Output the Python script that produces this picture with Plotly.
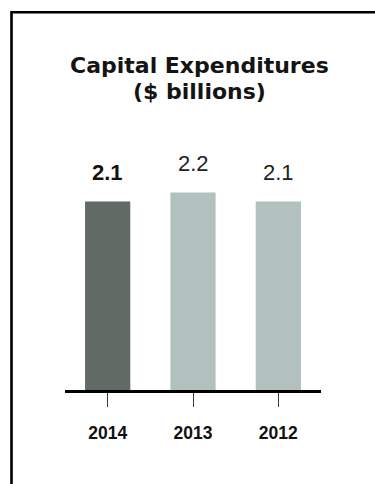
import plotly.graph_objects as go

# Capital expenditures by year, $ billions
years = ["2014", "2013", "2012"]
capex = [2.1, 2.2, 2.1]
bar_colors = ["#616b65", "#b2c1bd", "#b2c1bd"]
label_bold = [True, False, False]

title_lines = ["Capital Expenditures", "($ billions)"]

# canvas and plot-area geometry (pixels)
W, H = 375, 484
L, R, T, B = 65, 54, 150, 94
PW, PH = W - L - R, H - T - B
Y_TOP = 2.674


def px_x(px):
    return (px - L) / PW


def px_y(py):
    return (H - B - py) / PH


fig = go.Figure(
    go.Bar(
        x=years,
        y=capex,
        marker=dict(color=bar_colors, line=dict(width=0)),
        width=0.53,
        hoverinfo="skip",
    )
)

annotations = []
for i, (v, bold) in enumerate(zip(capex, label_bold)):
    annotations.append(
        dict(
            x=i, y=v, xref="x", yref="y",
            text=f"<b>{v:.1f}</b>" if bold else f"{v:.1f}",
            showarrow=False, yanchor="bottom", yshift=15,
            font=dict(family="Liberation Sans, Arial", size=22,
                      color="#111111" if bold else "#222222"),
        )
    )

for line, cy in zip(title_lines, [66, 91]):
    annotations.append(
        dict(
            x=px_x(199), y=px_y(cy), xref="paper", yref="paper",
            text=f"<b>{line}</b>", showarrow=False,
            xanchor="center", yanchor="middle",
            font=dict(family="DejaVu Sans", size=22, color="#141414"),
        )
    )

# open frame: left and top edges
frame_path = (
    f"M {px_x(11.5)},{px_y(484)} L {px_x(11.5)},{px_y(12.3)} "
    f"L {px_x(376)},{px_y(12.3)}"
)

fig.update_layout(
    width=W, height=H,
    margin=dict(l=L, r=R, t=T, b=B, pad=0),
    paper_bgcolor="white", plot_bgcolor="white",
    showlegend=False,
    bargap=0.47,
    annotations=annotations,
    shapes=[dict(type="path", path=frame_path, xref="paper", yref="paper",
                 line=dict(color="#000000", width=2.6), layer="above")],
    xaxis=dict(
        type="category", range=[-0.5, 2.5],
        showline=True, linecolor="#000000", linewidth=2.6,
        ticks="outside", ticklen=14, tickwidth=1, tickcolor="#3a3a3a",
        tickfont=dict(family="Liberation Sans, Arial", size=17.5, color="#111111"),
        ticklabelstandoff=11,
        tickvals=years, ticktext=[f"<b>{y}</b>" for y in years],
        showgrid=False, zeroline=False, fixedrange=True,
    ),
    yaxis=dict(
        range=[0, Y_TOP], visible=False, showgrid=False, zeroline=False,
        fixedrange=True,
    ),
)

fig.write_html("out.html")
